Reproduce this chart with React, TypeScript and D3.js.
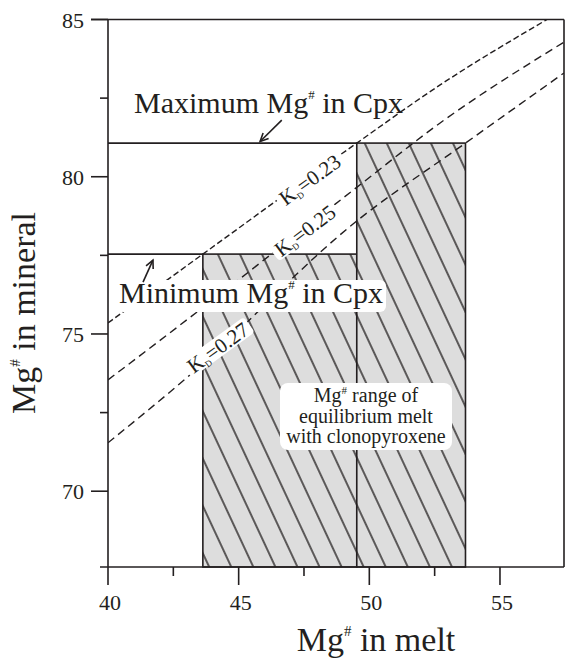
import React from "react";
import * as d3 from "d3";

// ---- data ----
const xTicksMajor = [40, 45, 50, 55];
const xTicksMinor = [42.5, 47.5, 52.5];
const yTicksMajor = [70, 75, 80, 85];
const yTicksMinor = [72.5, 77.5, 82.5];

const cpxMax = 81.07;
const cpxMin = 77.54;
// equilibrium melt ranges: [meltLow, meltHigh, cpxTop]
const meltRanges: [number, number, number][] = [
  [43.63, 49.52, 77.54],
  [49.52, 53.68, 81.07],
];

const kd023: [number, number][] = [
  [40, 75.35], [43.63, 77.54], [49.52, 81.07], [52.71, 82.92], [56.8, 85.0],
];
const kd025: [number, number][] = [
  [40, 73.54], [43.41, 75.7], [49.53, 79.67], [52.71, 81.71], [57.45, 84.28],
];
const kd027: [number, number][] = [
  [40, 71.54], [43.06, 73.64], [49.53, 78.6], [53.68, 81.07], [57.45, 83.3],
];

const kdLines = [
  { kd: "0.23", pts: kd023, dash: "6,3", label: [47.73, 79.9] as [number, number], angle: -36 },
  { kd: "0.25", pts: kd025, dash: "8,5", label: [47.54, 78.28] as [number, number], angle: -37 },
  { kd: "0.27", pts: kd027, dash: "8,5", label: [44.21, 74.56] as [number, number], angle: -36 },
];

// arrows: [tailX, tailY, tipX, tipY] in data units
const arrowMax: [number, number, number, number] = [46.65, 81.8, 45.82, 81.12];
const arrowMin: [number, number, number, number] = [41.34, 76.65, 41.72, 77.35];

const rangeText = ["range of", "equilibrium melt", "with clonopyroxene"];

const W = 565;
const H = 660;
const ink = "#231f20";
const font = "'Liberation Serif', 'Times New Roman', serif";

export default function App() {
  const x = d3.scaleLinear().domain([40, 57.45]).range([108, 564]);
  const y = d3.scaleLinear().domain([67.59, 85]).range([567, 19.5]);
  const x0 = x.range()[0];
  const x1 = x.range()[1];
  const yb = y.range()[0];
  const yt = y.range()[1];

  const line = d3
    .line<[number, number]>()
    .x((d) => x(d[0]))
    .y((d) => y(d[1]))
    .curve(d3.curveMonotoneX);

  const arrow = (a: [number, number, number, number], key: string) => {
    const [tx, ty, hx, hy] = [x(a[0]), y(a[1]), x(a[2]), y(a[3])];
    const ang = Math.atan2(hy - ty, hx - tx);
    const L = 9;
    const spread = 0.45;
    const p1 = [hx - L * Math.cos(ang - spread), hy - L * Math.sin(ang - spread)];
    const p2 = [hx - L * Math.cos(ang + spread), hy - L * Math.sin(ang + spread)];
    return (
      <g key={key} stroke={ink} strokeWidth={1.6} fill="none">
        <line x1={tx} y1={ty} x2={hx} y2={hy} />
        <polyline points={`${p1[0]},${p1[1]} ${hx},${hy} ${p2[0]},${p2[1]}`} />
      </g>
    );
  };

  return (
    <svg
      width={W}
      height={H}
      style={{ position: "absolute", left: 0, top: 0, background: "#fff" }}
      fontFamily={font}
    >
      <defs>
        <pattern
          id="hatch"
          patternUnits="userSpaceOnUse"
          width={20}
          height={20}
          patternTransform="rotate(-25)"
        >
          <rect width={20} height={20} fill="#dddddd" />
          <line x1={10} y1={-1} x2={10} y2={21} stroke={ink} strokeWidth={1.4} />
        </pattern>
        <clipPath id="plotClip">
          <rect x={x0} y={yt} width={x1 - x0} height={yb - yt} />
        </clipPath>
      </defs>

      {/* hatched ranges */}
      {meltRanges.map((r, i) => (
        <rect
          key={i}
          x={x(r[0])}
          y={y(r[2])}
          width={x(r[1]) - x(r[0])}
          height={yb - y(r[2])}
          fill="url(#hatch)"
          stroke={ink}
          strokeWidth={1.6}
        />
      ))}

      {/* Max / Min horizontal lines */}
      <line x1={x0} x2={x(meltRanges[1][0])} y1={y(cpxMax)} y2={y(cpxMax)} stroke={ink} strokeWidth={1.6} />
      <line x1={x0} x2={x(meltRanges[0][0])} y1={y(cpxMin)} y2={y(cpxMin)} stroke={ink} strokeWidth={1.6} />

      {/* KD lines */}
      <g clipPath="url(#plotClip)">
        {kdLines.map((k) => (
          <path key={k.kd} d={line(k.pts) || ""} fill="none" stroke={ink} strokeWidth={1.4} strokeDasharray={k.dash} />
        ))}
      </g>

      {/* KD labels */}
      {kdLines.map((k) => (
        <g key={"l" + k.kd} transform={`translate(${x(k.label[0])},${y(k.label[1])}) rotate(${k.angle})`}>
          <rect x={-39} y={-10} width={78} height={19} rx={4} fill="#fff" />
          <text textAnchor="middle" y={7} fontSize={21} fill={ink}>
            K<tspan fontSize={9} dy={3}>D</tspan>
            <tspan dy={-3}>=0.{k.kd.slice(2)}</tspan>
          </text>
        </g>
      ))}

      {/* axes */}
      <g stroke={ink} strokeWidth={1.6} fill="none">
        <line x1={x0} x2={x0} y1={yt} y2={yb} />
        <line x1={x1} x2={x1} y1={yt} y2={yb} />
        <line x1={x0 - 17} x2={x1} y1={yt} y2={yt} />
        <line x1={x0 - 8} x2={x1} y1={yb} y2={yb} />
        {xTicksMajor.map((t) => (
          <line key={"xm" + t} x1={x(t)} x2={x(t)} y1={yb} y2={yb + 18} />
        ))}
        {xTicksMinor.map((t) => (
          <line key={"xn" + t} x1={x(t)} x2={x(t)} y1={yb} y2={yb + 9} />
        ))}
        {yTicksMajor.map((t) => (
          <line key={"ym" + t} x1={x0 - 17} x2={x0} y1={y(t)} y2={y(t)} />
        ))}
        {yTicksMinor.map((t) => (
          <line key={"yn" + t} x1={x0 - 8} x2={x0} y1={y(t)} y2={y(t)} />
        ))}
      </g>
      <g fontSize={22} fill={ink}>
        {xTicksMajor.map((t) => (
          <text key={"xl" + t} x={x(t) + 2} y={610} textAnchor="middle">
            {t}
          </text>
        ))}
        {yTicksMajor.map((t) => (
          <text key={"yl" + t} x={84} y={y(t) + 8} textAnchor="end">
            {t}
          </text>
        ))}
      </g>

      {/* axis titles */}
      <text x={376} y={651} textAnchor="middle" fontSize={34} fill={ink}>
        Mg<tspan fontSize={15} dy={-15}>#</tspan>
        <tspan dy={15}> in melt</tspan>
      </text>
      <text transform="translate(35,313) rotate(-90)" textAnchor="middle" fontSize={34} fill={ink}>
        Mg<tspan fontSize={15} dy={-15}>#</tspan>
        <tspan dy={15}> in mineral</tspan>
      </text>

      {/* Maximum label */}
      <text x={134} y={113} fontSize={30} fill={ink}>
        Maximum Mg<tspan fontSize={13} dy={-14}>#</tspan>
        <tspan dy={14}> in Cpx</tspan>
      </text>
      {arrow(arrowMax, "amax")}

      {/* Minimum label */}
      <rect x={117} y={280} width={269} height={32} rx={6} fill="#fff" />
      <text x={119} y={303} fontSize={30} fill={ink}>
        Minimum Mg<tspan fontSize={13} dy={-14}>#</tspan>
        <tspan dy={14}> in Cpx</tspan>
      </text>
      {arrow(arrowMin, "amin")}

      {/* range box */}
      <rect x={280} y={383} width={172} height={67} rx={8} fill="#fff" />
      <text textAnchor="middle" fontSize={20} fill={ink}>
        <tspan x={366} y={402}>
          Mg<tspan fontSize={11} dy={-8}>#</tspan>
          <tspan dy={8}> {rangeText[0]}</tspan>
        </tspan>
        <tspan x={366} y={423}>{rangeText[1]}</tspan>
        <tspan x={366} y={443}>{rangeText[2]}</tspan>
      </text>
    </svg>
  );
}
